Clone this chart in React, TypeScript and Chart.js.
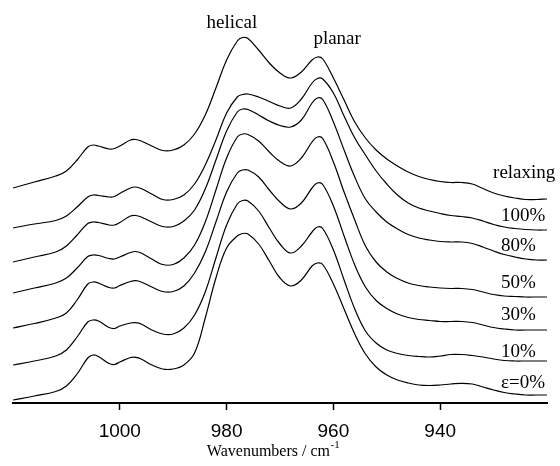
import React, { useEffect, useRef } from "react";
import { Chart, registerables } from "chart.js";

Chart.register(...registerables);

// Wavenumber grid (cm^-1) at which the spectra were sampled
const WAVENUMBERS = [
  1020, 1016, 1012, 1010, 1008, 1006, 1005, 1004, 1002, 1001,
  1000, 998, 997, 996, 994, 992, 990, 988, 986, 984,
  982, 980, 978, 977, 976, 974, 972, 970, 968, 966,
  964, 963, 962, 960, 958, 956, 954, 952, 950, 948,
  946, 944, 942, 940, 938, 936, 934, 932, 930, 928,
  926, 924, 922, 920,
];

// Offset intensities (a.u.), one spectrum per strain state
const RELAXING = [
  215, 221, 227, 232, 243, 256, 258, 257, 254, 254.5,
  257, 263, 263.5, 262, 257, 252.5, 253, 258, 269, 288,
  315, 343, 362, 365.5, 364.5, 353, 340, 330, 325, 331,
  343, 346, 344, 325, 303, 281, 265, 253, 244, 237,
  231, 226.5, 223.5, 221.5, 220.5, 220.5, 219, 214.5, 210, 207,
  205, 203.5, 203.5, 204,
];
const STRAIN_100 = [
  175, 179, 182.5, 187, 196, 206, 208, 207.5, 206, 206.5,
  209.5, 215, 216, 214.5, 209, 203.5, 203.5, 208, 219, 238,
  263, 290, 306, 308.5, 309, 306, 301.5, 297, 295, 304,
  320, 324.5, 324, 310, 287, 265, 248, 232, 219, 208,
  200, 195, 192, 189.5, 187.5, 186.5, 185, 182, 178.5, 176,
  174.5, 173.5, 173, 173,
];
const STRAIN_80 = [
  141, 146, 151, 157, 168, 179.5, 181, 180.5, 178, 178,
  180.5, 187, 187.5, 186, 181, 176.5, 176.5, 182, 193, 214,
  243, 272, 291, 294, 293.5, 288, 282, 277.5, 276, 283,
  300, 305, 303.5, 281, 253, 226, 204, 191, 181, 174,
  168.5, 165, 163, 161.5, 161, 161, 159.5, 156, 152, 148.5,
  146, 144, 143, 143,
];
const STRAIN_50 = [
  110, 115, 120, 125, 135, 146.5, 148, 147.5, 144.5, 144,
  146, 150.5, 151.5, 150, 144, 138.5, 138.5, 145, 158, 181,
  213, 245, 266, 269, 268.5, 262, 251, 241.5, 237, 245,
  261, 266, 264.5, 241, 211, 183, 157, 141, 131, 124.5,
  120, 117.5, 116, 115, 114.5, 114.5, 113.5, 111, 108.5, 107,
  106.5, 106, 106, 106,
];
const STRAIN_30 = [
  75, 79.5, 85, 90, 103, 119, 121, 120, 115.5, 115,
  117.5, 121.5, 122.3, 121, 116, 111.5, 111.5, 117, 130, 151,
  181, 211, 230, 233, 233, 226, 213, 201, 194, 200,
  215, 220, 218.5, 197, 167, 138, 116, 102.5, 94.5, 89,
  85.5, 83.5, 82.5, 81.5, 81.5, 81.5, 80.5, 78, 75.5, 74,
  73, 73, 73, 73,
];
const STRAIN_10 = [
  38, 42, 47, 53, 66, 81, 83, 82, 75.5, 74.5,
  77, 80, 80.3, 79, 73, 69, 69, 75, 88, 111,
  145, 178, 199, 202.5, 202, 192, 175, 159, 150, 157,
  171, 176, 174.5, 153, 123, 94, 72, 60, 53, 49.5,
  47.5, 46.5, 46, 47, 48.5, 48.5, 47.5, 46, 44, 42.5,
  42, 42, 42, 42,
];
const STRAIN_0 = [
  3, 7, 11.5, 17, 29, 45, 48, 46.5, 39.5, 38.5,
  41, 45.5, 45.7, 44, 38, 34, 34, 38, 50, 85,
  125, 155, 167, 169.5, 169, 159, 142, 125, 117, 123,
  137, 140, 138.5, 119, 94, 69, 49, 36, 28, 23,
  20, 18, 17.5, 18, 19, 19.7, 19, 16, 13, 10.5,
  9, 8, 8, 8,
];

const SPECTRA = [RELAXING, STRAIN_100, STRAIN_80, STRAIN_50, STRAIN_30, STRAIN_10, STRAIN_0];
const SPECTRUM_NAMES = ["relaxing", "100%", "80%", "50%", "30%", "10%", "ε=0%"];
// Anchor of each spectrum's name: [wavenumber, intensity]
const NAME_ANCHORS = [
  [930.1, 225],
  [928.6, 182],
  [928.6, 152],
  [928.6, 115],
  [928.6, 83],
  [928.6, 46.5],
  [928.6, 15],
];

const BANDS = ["helical", "planar"];
const BAND_ANCHORS = [
  [979, 375],
  [959.3, 359],
];

const X_TICKS = [1000, 980, 960, 940];
const X_MIN = 920;
const X_MAX = 1020;
const Y_MAX = 403;

const SERIF = '"Liberation Serif", "Times New Roman", serif';

const textPlugin = {
  id: "spectrumText",
  afterDraw(chart: any) {
    const { ctx, scales, chartArea } = chart;
    const xs = scales.x;
    const ys = scales.y;
    ctx.save();
    ctx.fillStyle = "#000";
    ctx.textBaseline = "alphabetic";

    ctx.font = `19px ${SERIF}`;
    ctx.textAlign = "center";
    BANDS.forEach((t, i) => {
      ctx.fillText(t, xs.getPixelForValue(BAND_ANCHORS[i][0]), ys.getPixelForValue(BAND_ANCHORS[i][1]));
    });

    ctx.textAlign = "left";
    SPECTRUM_NAMES.forEach((t, i) => {
      ctx.fillText(t, xs.getPixelForValue(NAME_ANCHORS[i][0]), ys.getPixelForValue(NAME_ANCHORS[i][1]));
    });

    // axis title with superscript unit exponent
    const main = "Wavenumbers / cm";
    const sup = "-1";
    ctx.font = `16px ${SERIF}`;
    const wMain = ctx.measureText(main).width;
    ctx.font = `11px ${SERIF}`;
    const wSup = ctx.measureText(sup).width;
    const cx = (chartArea.left + chartArea.right) / 2 - 7;
    const startX = cx - (wMain + wSup) / 2;
    const base = chartArea.bottom + 53;
    ctx.font = `16px ${SERIF}`;
    ctx.fillText(main, startX, base);
    ctx.font = `11px ${SERIF}`;
    ctx.fillText(sup, startX + wMain + 0.5, base - 8);
    ctx.restore();
  },
};

export default function App() {
  const canvasRef = useRef<HTMLCanvasElement | null>(null);

  useEffect(() => {
    const canvas = canvasRef.current;
    if (!canvas) return;
    const chart = new Chart(canvas, {
      type: "line",
      data: {
        datasets: SPECTRA.map((vals, i) => ({
          label: SPECTRUM_NAMES[i],
          data: WAVENUMBERS.map((w, j) => ({ x: w, y: vals[j] })),
          borderColor: "#000",
          borderWidth: 1.2,
          pointRadius: 0,
          fill: false,
          tension: 0.4,
        })),
      },
      options: {
        responsive: false,
        animation: false,
        devicePixelRatio: 1,
        layout: { padding: { left: 13, right: 13, top: 0, bottom: 0 } },
        plugins: {
          legend: { display: false },
          tooltip: { enabled: false },
          title: { display: false },
        },
        scales: {
          x: {
            type: "linear",
            reverse: true,
            min: X_MIN,
            max: X_MAX,
            afterBuildTicks: (scale: any) => {
              scale.ticks = X_TICKS.map((v) => ({ value: v }));
            },
            afterFit: (scale: any) => {
              scale.height = 63;
            },
            border: { display: true, color: "#000", width: 2 },
            grid: {
              display: true,
              drawOnChartArea: false,
              drawTicks: true,
              tickLength: 7,
              tickColor: "#000",
              tickWidth: 1.5,
            },
            ticks: {
              autoSkip: false,
              maxRotation: 0,
              padding: 10,
              color: "#000",
              font: { family: '"Liberation Sans", Arial, sans-serif', size: 19 },
              callback: (v: any) => String(v),
            },
          },
          y: {
            display: false,
            min: 0,
            max: Y_MAX,
          },
        },
      },
      plugins: [textPlugin],
    });
    return () => chart.destroy();
  }, []);

  return (
    <div style={{ position: "fixed", left: 0, top: 0, width: 560, height: 466, background: "#fff" }}>
      <canvas ref={canvasRef} width={560} height={466} />
    </div>
  );
}
